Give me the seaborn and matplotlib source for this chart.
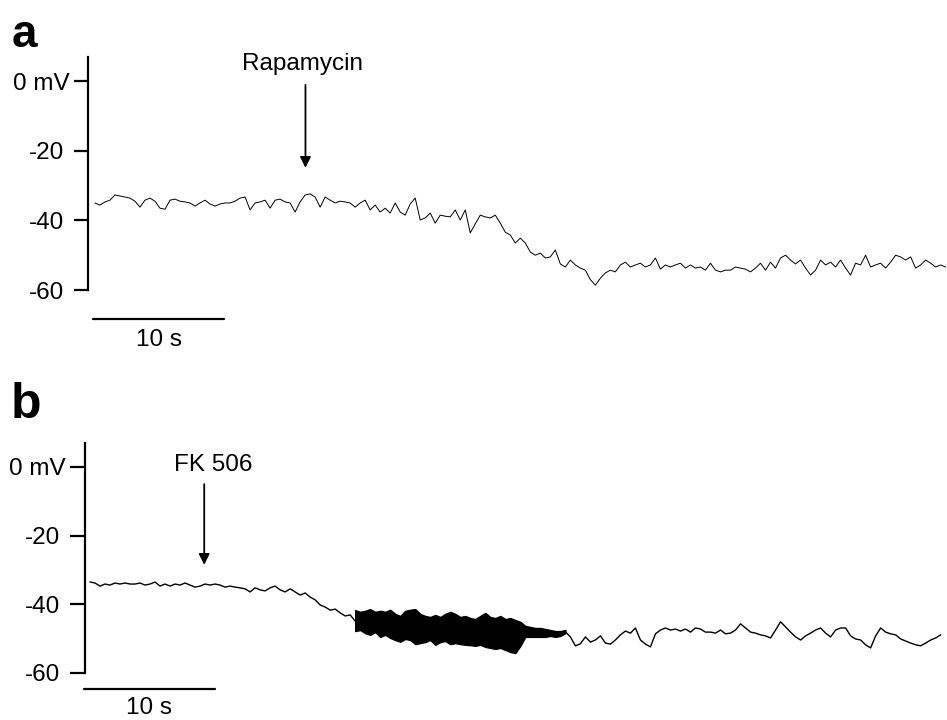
import numpy as np
import seaborn as sns
import matplotlib.pyplot as plt
from matplotlib.transforms import ScaledTranslation

# ------------------------------
# Data (mV)
# ------------------------------
SAMPLE_S = 0.382          # spacing between read-off points, s
A_START_S = 0.53
B_START_S = 0.38

# panel a: rapamycin
trace_a = [
    -35.0, -35.6, -34.7, -34.2, -32.7, -33.0, -33.3, -33.6, -34.5, -36.2,
    -34.2, -33.6, -34.5, -36.5, -36.8, -34.2, -33.9, -34.5, -34.7, -35.0,
    -35.9, -35.0, -34.2, -35.3, -35.9, -35.3, -35.0, -35.0, -34.5, -33.6,
    -33.3, -37.0, -35.0, -34.7, -34.2, -36.5, -34.2, -33.9, -34.7, -35.0,
    -37.6, -34.7, -32.7, -32.4, -33.3, -36.2, -33.3, -34.2, -35.0, -34.5,
    -34.7, -35.0, -36.2, -35.0, -34.2, -37.0, -35.6, -37.6, -36.5, -37.9,
    -35.0, -37.6, -38.5, -35.3, -33.6, -39.9, -39.3, -37.9, -40.8, -38.5,
    -38.8, -39.0, -37.0, -39.9, -37.0, -43.6, -41.0, -38.5, -39.0, -39.3,
    -38.5, -40.8, -43.4, -44.2, -46.5, -45.1, -46.5, -49.1, -50.0, -49.4,
    -50.8, -50.5, -48.5, -52.5, -53.4, -51.4, -52.8, -53.7, -54.3, -57.0,
    -58.6, -56.6, -55.1, -54.3, -54.8, -52.8, -52.0, -53.4, -52.8, -52.3,
    -53.4, -52.8, -50.8, -54.0, -52.8, -53.4, -52.8, -52.3, -53.7, -52.8,
    -53.7, -53.4, -54.3, -52.3, -54.3, -54.8, -54.3, -54.3, -53.4, -53.7,
    -54.0, -54.8, -53.7, -52.3, -54.3, -52.0, -53.7, -50.8, -50.0, -51.4,
    -52.5, -51.4, -53.7, -55.7, -54.3, -51.4, -52.8, -52.0, -53.4, -51.4,
    -53.7, -55.7, -52.3, -52.8, -50.0, -53.4, -52.8, -52.3, -53.7, -52.0,
    -50.0, -50.5, -51.4, -50.5, -53.7, -52.8, -51.4, -52.3, -53.4, -52.8,
    -53.4,
]

# panel b: FK 506, before the burst
trace_b_pre = [
    -33.5, -33.8, -34.7, -34.1, -34.4, -33.8, -34.1, -33.8, -34.1, -34.1,
    -33.8, -34.4, -34.1, -33.5, -34.7, -34.1, -34.7, -34.1, -34.4, -33.8,
    -34.4, -35.0, -34.7, -34.1, -34.4, -34.1, -34.4, -35.0, -34.7, -35.0,
    -35.2, -35.5, -36.4, -35.2, -35.8, -36.1, -35.2, -34.7, -35.8, -36.4,
    -35.5, -36.4, -37.3, -36.7, -37.9, -38.7, -40.2, -40.8, -41.7, -41.4,
    -42.5, -43.4, -43.1, -44.9,
]
# burst of fast oscillations: upper and lower envelope
burst_hi = [
    -41.7, -42.2, -41.9, -41.4, -42.2, -41.9, -42.2, -41.6, -42.8, -43.4,
    -41.9, -41.6, -41.4, -42.8, -43.4, -43.7, -43.1, -43.7, -42.8, -42.2,
    -42.8, -43.7, -43.4, -44.0, -44.3, -43.4, -42.5, -43.7, -44.0, -43.4,
    -44.3, -44.0, -44.6, -45.1, -46.3, -46.6, -46.9, -46.9, -47.2, -47.5,
    -47.8, -47.8, -47.5,
]
burst_lo = [
    -47.8, -47.5, -48.4, -48.9, -48.1, -49.5, -48.9, -49.8, -50.4, -50.9,
    -50.1, -50.4, -51.6, -51.3, -51.0, -50.4, -51.8, -51.0, -50.7, -51.6,
    -51.3, -51.6, -51.8, -51.9, -52.1, -51.8, -52.4, -52.7, -53.0, -52.7,
    -53.3, -53.9, -54.2, -52.1, -49.5, -49.5, -49.5, -49.5, -49.5, -49.2,
    -49.5, -49.2, -48.4,
]
# after the burst
trace_b_post = [
    -48.0, -49.5, -52.1, -51.5, -49.5, -51.0, -50.4, -49.2, -51.3, -51.6,
    -50.4, -48.9, -47.8, -48.4, -46.9, -50.4, -51.6, -52.4, -48.6, -47.5,
    -46.9, -47.5, -47.2, -47.8, -47.2, -48.1, -46.9, -47.2, -48.1, -48.1,
    -48.4, -47.5, -48.6, -48.4, -47.5, -45.7, -46.9, -48.1, -48.4, -48.9,
    -49.2, -49.8, -47.5, -45.1, -46.6, -48.1, -49.5, -50.4, -49.2, -48.4,
    -47.5, -46.9, -48.4, -49.5, -47.5, -46.9, -46.9, -49.2, -50.1, -50.4,
    -51.8, -52.7, -49.2, -46.9, -48.1, -48.6, -48.9, -50.1, -50.7, -51.3,
    -51.8, -52.1, -51.3, -50.4, -49.8, -48.9,
]

tick_vals = [0, -20, -40, -60]
tick_labels = ['0 mV', '-20', '-40', '-60']
SCALE_S = 10
FS = 17.5

# ------------------------------
# Figure
# ------------------------------
sns.set_style('white')
plt.rcParams['font.family'] = ['Liberation Sans', 'DejaVu Sans']
plt.rcParams['text.color'] = 'black'

W, H = 947, 720
fig = plt.figure(figsize=(W / 100, H / 100), dpi=100)

t_a = A_START_S + np.arange(len(trace_a)) * SAMPLE_S
n_pre = len(trace_b_pre)
n_burst = len(burst_hi)
t_b = B_START_S + np.arange(n_pre + n_burst + len(trace_b_post) - 2) * SAMPLE_S
t_pre = t_b[:n_pre]
t_burst = t_b[n_pre - 1:n_pre - 1 + n_burst]
t_post = t_b[n_pre + n_burst - 2:]


def px_axes(x0, y0, x1, y1):
    return fig.add_axes([x0 / W, 1 - y1 / H, (x1 - x0) / W, (y1 - y0) / H])


def style_axis(ax, tick_len):
    for s in ['top', 'right', 'bottom']:
        ax.spines[s].set_visible(False)
    ax.spines['left'].set_linewidth(1.6)
    ax.spines['left'].set_color('black')
    ax.spines['left'].set_bounds(-60, 7)
    ax.set_xticks([])
    ax.set_yticks(tick_vals, labels=tick_labels)
    ax.tick_params(axis='y', left=True, direction='out', length=tick_len,
                   width=1.6, pad=7, labelsize=FS, colors='black')
    # the "0 mV" label sits close to its tick
    lab = ax.get_yticklabels()[0]
    lab.set_transform(lab.get_transform()
                      + ScaledTranslation(4 / 72, 0, fig.dpi_scale_trans))


# panel a
ax_a = px_axes(88, 40, 947, 360)
ax_a.set_xlim(0, (947 - 88) / 13.1)
ax_a.set_ylim(-80.1, 11.8)
sns.lineplot(x=t_a, y=trace_a, ax=ax_a, color='black', lw=0.7, sort=False)
style_axis(ax_a, 10)
ax_a.plot([0.4, 0.4 + SCALE_S], [-68.3, -68.3], color='black', lw=1.6, clip_on=False)
ax_a.text(0.4 + SCALE_S / 2, -71.2, '10 s', ha='center', va='top', fontsize=FS)
ax_a.annotate('', xy=(16.6, -24.9), xytext=(16.6, -1.1),
              arrowprops=dict(arrowstyle='-|>', color='black', lw=1.3,
                              mutation_scale=16, shrinkA=0, shrinkB=0))
ax_a.text(16.4, 4.8, 'Rapamycin', ha='center', va='center', fontsize=FS)

# panel b
ax_b = px_axes(85, 400, 947, 720)
ax_b.set_xlim(0, (947 - 85) / 13.1)
ax_b.set_ylim(-73.7, 19.5)
sns.lineplot(x=t_pre, y=trace_b_pre, ax=ax_b, color='black', lw=1.0, sort=False)
ax_b.fill_between(t_burst, burst_lo, burst_hi, color='black', lw=1.0)
sns.lineplot(x=t_post, y=trace_b_post, ax=ax_b, color='black', lw=1.0, sort=False)
style_axis(ax_b, 11)
ax_b.plot([-0.1, -0.1 + SCALE_S], [-64.7, -64.7], color='black', lw=1.6, clip_on=False)
ax_b.text(-0.1 + SCALE_S / 2, -67.0, '10 s', ha='center', va='top', fontsize=FS)
ax_b.annotate('', xy=(9.1, -28.5), xytext=(9.1, -5.0),
              arrowprops=dict(arrowstyle='-|>', color='black', lw=1.3,
                              mutation_scale=16, shrinkA=0, shrinkB=0))
ax_b.text(9.8, 0.5, 'FK 506', ha='center', va='center', fontsize=FS)

# panel letters
fig.text(12 / W, 1 - 47 / H, 'a', fontsize=33, fontweight='bold', va='baseline')
fig.text(11 / W, 1 - 418 / H, 'b', fontsize=36, fontweight='bold', va='baseline')

fig.savefig('out.png', dpi=100)
